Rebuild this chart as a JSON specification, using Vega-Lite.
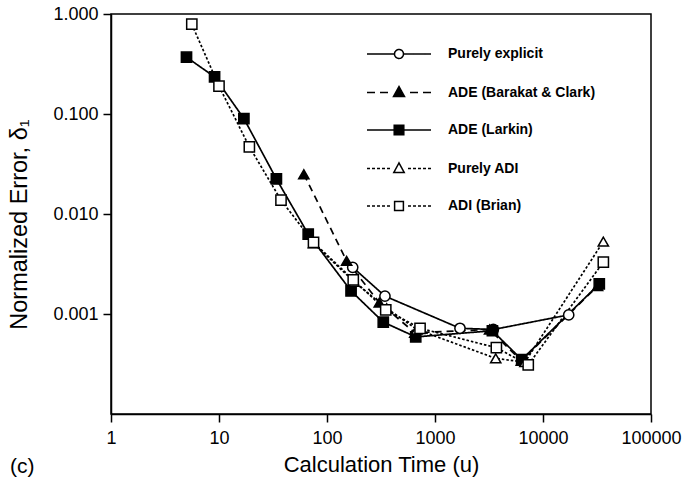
{
  "$schema": "https://vega.github.io/schema/vega-lite/v6.json",
  "width": 540,
  "height": 400,
  "autosize": {"type": "none"},
  "padding": {"left": 111, "top": 14, "right": 32, "bottom": 66},
  "background": "white",
  "config": {
    "font": "Liberation Sans",
    "view": {"stroke": "black", "strokeWidth": 1.5},
    "axis": {
      "domainColor": "black", "domainWidth": 1.5,
      "tickColor": "black", "tickWidth": 1.5, "tickSize": 8,
      "labelColor": "black", "labelFontSize": 18, "labelFont": "Liberation Sans",
      "titleColor": "black", "titleFontSize": 22, "titleFontWeight": "normal", "titleFont": "Liberation Sans",
      "grid": false, "labelOverlap": false
    }
  },
  "title": {"text": "(c)", "orient": "bottom", "anchor": "start", "frame": "group", "fontSize": 21, "fontWeight": "normal", "font": "Liberation Sans", "color": "black", "dx": -101, "dy": -23},
  "data": {"values": [
    {"s": "Purely explicit", "x": 173, "y": 0.00293},
    {"s": "Purely explicit", "x": 344, "y": 0.00151},
    {"s": "Purely explicit", "x": 1703, "y": 0.00072},
    {"s": "Purely explicit", "x": 3467, "y": 0.0007},
    {"s": "Purely explicit", "x": 17300, "y": 0.00098},
    {"s": "ADE (Barakat & Clark)", "x": 61, "y": 0.025},
    {"s": "ADE (Barakat & Clark)", "x": 152, "y": 0.0034},
    {"s": "ADE (Barakat & Clark)", "x": 305, "y": 0.0013},
    {"s": "ADE (Barakat & Clark)", "x": 650, "y": 0.00065},
    {"s": "ADE (Barakat & Clark)", "x": 3200, "y": 0.0007},
    {"s": "ADE (Barakat & Clark)", "x": 6300, "y": 0.00034},
    {"s": "ADE (Barakat & Clark)", "x": 32000, "y": 0.0019},
    {"s": "ADE (Larkin)", "x": 5.0, "y": 0.37},
    {"s": "ADE (Larkin)", "x": 9.1, "y": 0.235},
    {"s": "ADE (Larkin)", "x": 17, "y": 0.09},
    {"s": "ADE (Larkin)", "x": 34, "y": 0.0224},
    {"s": "ADE (Larkin)", "x": 67, "y": 0.0063},
    {"s": "ADE (Larkin)", "x": 167, "y": 0.0017},
    {"s": "ADE (Larkin)", "x": 332, "y": 0.00083},
    {"s": "ADE (Larkin)", "x": 663, "y": 0.00059},
    {"s": "ADE (Larkin)", "x": 3400, "y": 0.00068},
    {"s": "ADE (Larkin)", "x": 6350, "y": 0.00035},
    {"s": "ADE (Larkin)", "x": 33200, "y": 0.002},
    {"s": "Purely ADI", "x": 75, "y": 0.0051},
    {"s": "Purely ADI", "x": 178, "y": 0.0021},
    {"s": "Purely ADI", "x": 357, "y": 0.00114},
    {"s": "Purely ADI", "x": 680, "y": 0.0007},
    {"s": "Purely ADI", "x": 3650, "y": 0.00036},
    {"s": "Purely ADI", "x": 6800, "y": 0.00033},
    {"s": "Purely ADI", "x": 36200, "y": 0.0053},
    {"s": "ADI (Brian)", "x": 5.6, "y": 0.79},
    {"s": "ADI (Brian)", "x": 10, "y": 0.19},
    {"s": "ADI (Brian)", "x": 19.1, "y": 0.047},
    {"s": "ADI (Brian)", "x": 37.5, "y": 0.0138},
    {"s": "ADI (Brian)", "x": 75, "y": 0.0052},
    {"s": "ADI (Brian)", "x": 175, "y": 0.0022},
    {"s": "ADI (Brian)", "x": 350, "y": 0.0011},
    {"s": "ADI (Brian)", "x": 727, "y": 0.00072},
    {"s": "ADI (Brian)", "x": 3700, "y": 0.00046},
    {"s": "ADI (Brian)", "x": 7300, "y": 0.00031},
    {"s": "ADI (Brian)", "x": 36200, "y": 0.0033}
  ]},
  "encoding": {
    "x": {"field": "x", "type": "quantitative",
      "scale": {"type": "log", "domain": [1, 100000], "nice": false},
      "axis": {"values": [1, 10, 100, 1000, 10000, 100000], "format": "d", "title": "Calculation Time (u)", "labelPadding": 7, "titlePadding": 7, "labelFlush": false}},
    "y": {"field": "y", "type": "quantitative",
      "scale": {"type": "log", "domain": [0.0001, 1], "nice": false},
      "axis": {"values": [0.001, 0.01, 0.1, 1], "format": ".3f", "title": "Normalized Error, δ₁", "labelPadding": 5, "titlePadding": 21, "titleFontSize": 23.5, "titleY": 210}}
  },
  "layer": [
    {
      "mark": {"type": "line", "color": "black", "strokeWidth": 1.7},
      "encoding": {
        "strokeDash": {"field": "s", "type": "nominal",
          "scale": {"domain": ["ADI (Brian)", "Purely explicit", "ADE (Barakat & Clark)", "ADE (Larkin)", "Purely ADI"],
                    "range": [[2.5, 2], [1, 0], [7, 5], [1, 0], [2.5, 2]]},
          "legend": null}
      }
    },
    {
      "mark": {"type": "point", "stroke": "black", "strokeWidth": 1.5, "opacity": 1, "size": 105},
      "encoding": {
        "shape": {"field": "s", "type": "nominal",
          "scale": {"domain": ["ADE (Larkin)", "Purely explicit", "ADE (Barakat & Clark)", "Purely ADI", "ADI (Brian)"],
                    "range": ["square", "circle", "triangle-up", "triangle-up", "square"]},
          "legend": null},
        "fill": {"field": "s", "type": "nominal",
          "scale": {"domain": ["Purely explicit", "ADE (Barakat & Clark)", "ADE (Larkin)", "Purely ADI", "ADI (Brian)"],
                    "range": ["white", "black", "black", "white", "white"]},
          "legend": {
            "title": null, "orient": "none", "legendX": 279, "legendY": 31,
            "padding": 0, "symbolSize": 256, "labelOffset": 40, "rowPadding": 21.5,
            "labelFontSize": 14, "labelFontWeight": "bold", "labelFont": "Liberation Sans", "labelColor": "black",
            "symbolStrokeWidth": 1.5, "symbolStrokeColor": "black", "symbolOpacity": 1,
            "encoding": {
              "symbols": {
                "shape": {"value": {"signal": "datum.value === 'Purely explicit' ? 'M-4,0L-0.56,0M0.56,0L4,0M0.56,0C0.56,0.309 0.309,0.56 0,0.56C-0.309,0.56 -0.56,0.309 -0.56,0C-0.56,-0.309 -0.309,-0.56 0,-0.56C0.309,-0.56 0.56,-0.309 0.56,0Z' : datum.value === 'ADE (Barakat & Clark)' ? 'M-4,0L-3,0M-2.375,0L-1.375,0M1.375,0L2.375,0M3,0L4,0M0,-0.75L0.69,0.5L-0.69,0.5Z' : datum.value === 'ADE (Larkin)' ? 'M-4,0L4,0M-0.6,-0.6L0.6,-0.6L0.6,0.6L-0.6,0.6Z' : datum.value === 'Purely ADI' ? 'M-4,0L-3.625,0M-3.375,0L-3,0M-2.75,0L-2.375,0M-2.125,0L-1.75,0M-1.5,0L-1.125,0M1.125,0L1.5,0M1.75,0L2.125,0M2.375,0L2.75,0M3,0L3.375,0M3.625,0L4,0M0,-0.7L0.65,0.5L-0.65,0.5Z' : 'M-4,0L-3.625,0M-3.375,0L-3,0M-2.75,0L-2.375,0M-2.125,0L-1.75,0M-1.5,0L-1.125,0M1.125,0L1.5,0M1.75,0L2.125,0M2.375,0L2.75,0M3,0L3.375,0M3.625,0L4,0M-0.55,-0.55L0.55,-0.55L0.55,0.55L-0.55,0.55Z'"}},
                "stroke": {"value": "black"},
                "strokeWidth": {"value": 1.5},
                "strokeDash": {"value": [1, 0]},
                "size": {"value": 256},
                "opacity": {"value": 1}
              }
            }
          }}
      }
    }
  ]
}
